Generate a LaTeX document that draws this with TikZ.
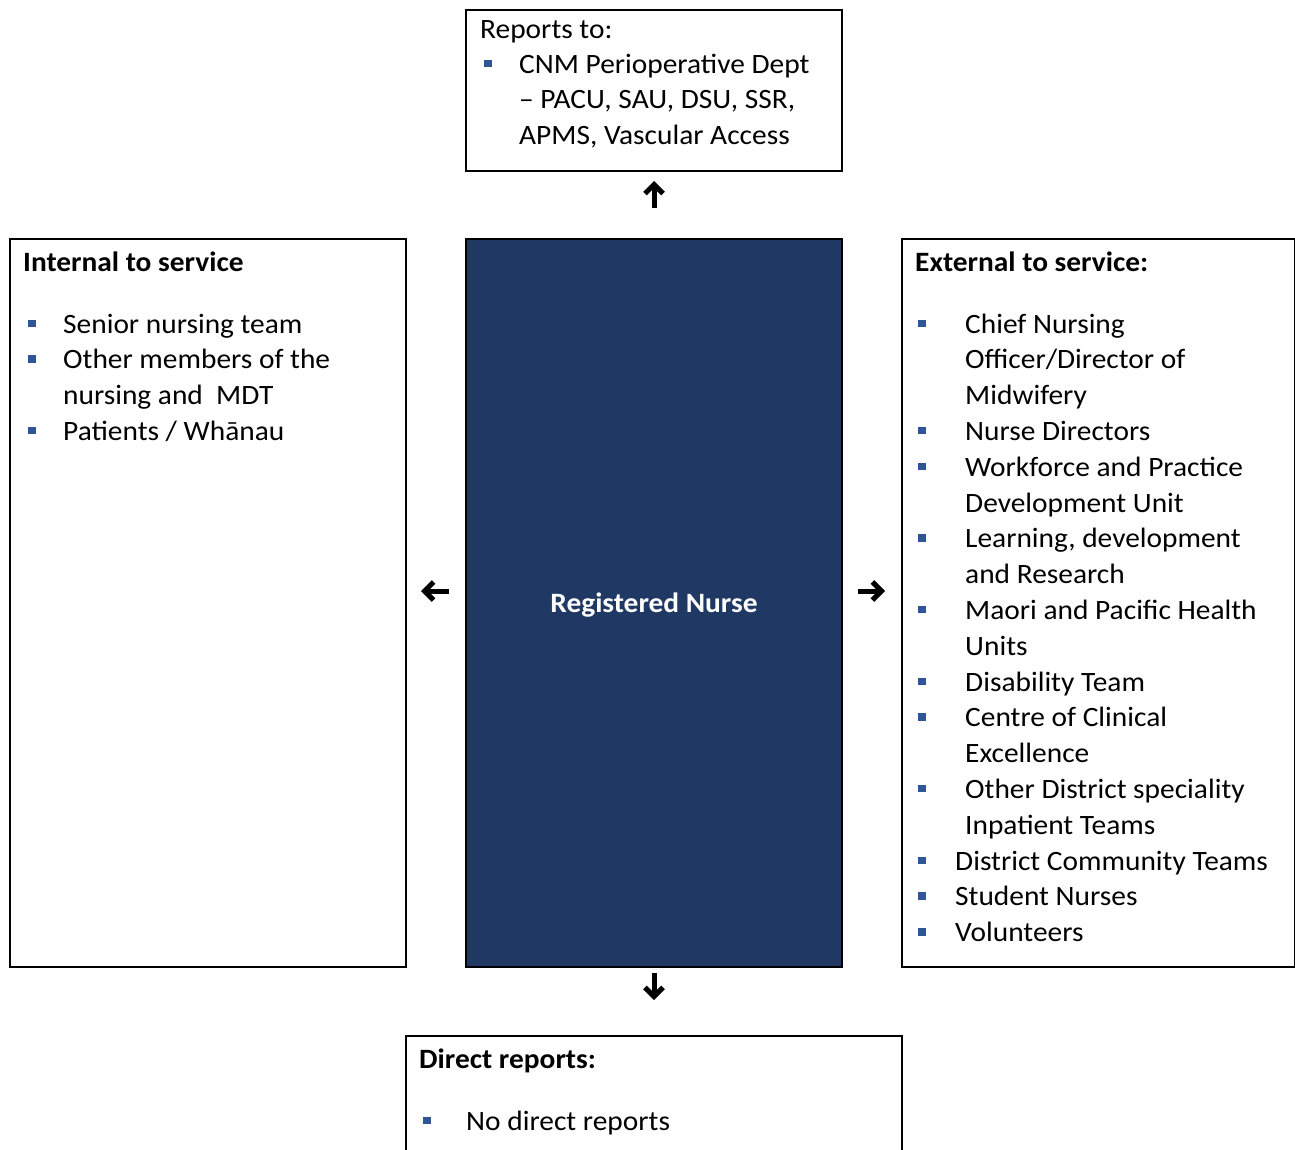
\documentclass[tikz,border=0pt]{standalone}
\usepackage{fontspec}
\setmainfont{Carlito}[FakeStretch=1.05]
\usetikzlibrary{arrows.meta}
\definecolor{navy}{HTML}{203864}
\definecolor{bulletblue}{HTML}{2F5597}
\newcommand{\bul}[1]{\makebox[#1][l]{\textcolor{bulletblue}{\rule[6pt]{7.5pt}{7.5pt}}}}
\newcommand{\gap}[1]{\hspace*{#1}}
\tikzset{
  box/.style={draw,line width=2pt,inner sep=0pt,anchor=north west},
  txt/.style={anchor=base west,inner sep=0pt,font=\fontsize{28}{35.8}\selectfont},
  fat/.style={line width=5pt,-{Straight Barb[length=9pt,width=18pt]}}
}
\begin{document}
\begin{tikzpicture}[x=1pt,y=-1pt]
\useasboundingbox (0,0) rectangle (1295,1149);

\node (rep) at (465,9) [box,minimum width=376pt,minimum height=161pt] {};
\node (rn) at (465,238) [box,fill=navy,minimum width=376pt,minimum height=728pt] {};
\node (rnt) at ([shift={(0,2)}]rn.center) [text=white,font=\fontsize{28}{35.8}\selectfont\bfseries] {Registered Nurse};
\node (int) at (9,238) [box,minimum width=396pt,minimum height=728pt] {};
\node (ext) at (901,238) [box,minimum width=393pt,minimum height=728pt] {};
\node (dir) at (405,1035) [box,minimum width=496pt,minimum height=160pt] {};

% reports to
\node (reph) at (480,38) [txt] {Reports to:};
\node (repl) at (484,73) [txt] {\begin{tabular}[t]{@{}l@{}}
  \bul{35pt}CNM Perioperative Dept\\
  \gap{35pt}– PACU, SAU, DSU, SSR,\\
  \gap{35pt}APMS, Vascular Access
\end{tabular}};

% internal
\node (inth) at (23,271) [txt] {\bfseries Internal to service};
\node (intl) at (28,333) [txt] {\begin{tabular}[t]{@{}l@{}}
  \bul{35pt}Senior nursing team\\
  \bul{35pt}Other members of the\\
  \gap{35pt}nursing and\ \ MDT\\
  \bul{35pt}Patients / Whānau
\end{tabular}};

% external
\node (exth) at (915,271) [txt] {\bfseries External to service:};
\node (extl) at (918,333) [txt] {\begin{tabular}[t]{@{}l@{}}
  \bul{47pt}Chief Nursing\\
  \gap{47pt}Officer/Director of\\
  \gap{47pt}Midwifery\\
  \bul{47pt}Nurse Directors\\
  \bul{47pt}Workforce and Practice\\
  \gap{47pt}Development Unit\\
  \bul{47pt}Learning, development\\
  \gap{47pt}and Research\\
  \bul{47pt}Maori and Pacific Health\\
  \gap{47pt}Units\\
  \bul{47pt}Disability Team\\
  \bul{47pt}Centre of Clinical\\
  \gap{47pt}Excellence\\
  \bul{47pt}Other District speciality\\
  \gap{47pt}Inpatient Teams\\
  \bul{37pt}District Community Teams\\
  \bul{37pt}Student Nurses\\
  \bul{37pt}Volunteers
\end{tabular}};

% direct reports
\node (dirh) at (419,1068) [txt] {\bfseries Direct reports:};
\node (dirl) at (423,1130) [txt] {\bul{43pt}No direct reports};

\draw [fat] ([shift={(0,-30)}]rn.north) -- ([shift={(0,-57)}]rn.north);
\draw [fat] ([shift={(0,5)}]rn.south) -- ([shift={(0,32)}]rn.south);
\draw [fat] ([shift={(-16,-12)}]rn.west) -- ([shift={(-44,-12)}]rn.west);
\draw [fat] ([shift={(15,-12)}]rn.east) -- ([shift={(42,-12)}]rn.east);

\end{tikzpicture}
\end{document}
